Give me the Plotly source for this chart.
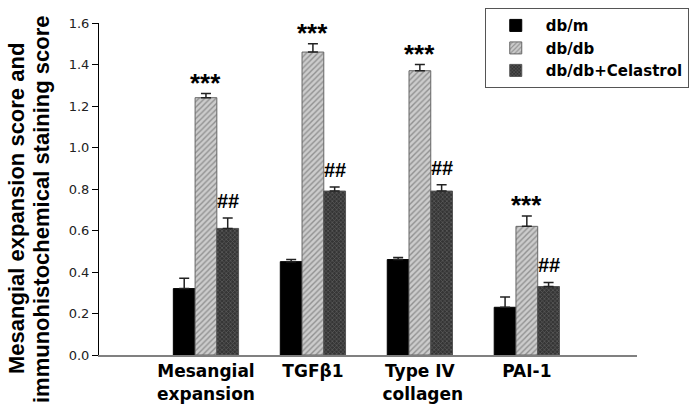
import plotly.graph_objects as go

categories = ["Mesangial<br>expansion", "TGFβ1", "Type IV<br> collagen", "PAI-1"]
series_names = ["db/m", "db/db", "db/db+Celastrol"]
dbm = [0.32, 0.45, 0.46, 0.23]
dbm_err = [0.05, 0.01, 0.01, 0.05]
dbdb = [1.24, 1.46, 1.37, 0.62]
dbdb_err = [0.02, 0.04, 0.03, 0.05]
cel = [0.61, 0.79, 0.79, 0.33]
cel_err = [0.05, 0.02, 0.03, 0.02]
star_labels = ["***", "***", "***", "***"]
hash_labels = ["##", "##", "##", "##"]
y_ticks = [0.0, 0.2, 0.4, 0.6, 0.8, 1.0, 1.2, 1.4, 1.6]
y_title_lines = ["Mesangial expansion score and", "immunohistochemical staining score"]

xs = list(range(len(categories)))
BOLD = "DejaVu Sans, Liberation Sans, Arial"
ARIAL = "Liberation Sans, Arial"

fig = go.Figure()

def err(vals):
    return dict(type="data", array=vals, arrayminus=[0] * len(vals), symmetric=False,
                color="#222222", thickness=1.5, width=5)

fig.add_trace(go.Bar(name="<b>" + series_names[0] + "</b>", x=xs, y=dbm, error_y=err(dbm_err),
                     marker=dict(color="#000000", line=dict(color="#000000", width=1))))
fig.add_trace(go.Bar(name="<b>" + series_names[1] + "</b>", x=xs, y=dbdb, error_y=err(dbdb_err),
                     marker=dict(color="#cfcfcf", line=dict(color="#666666", width=1),
                                 pattern=dict(shape="/", bgcolor="#cccccc", fgcolor="#555555",
                                              size=4, solidity=0.35))))
fig.add_trace(go.Bar(name="<b>" + series_names[2] + "</b>", x=xs, y=cel, error_y=err(cel_err),
                     marker=dict(color="#444444", line=dict(color="#555555", width=1),
                                 pattern=dict(shape="x", bgcolor="#353535", fgcolor="#858585",
                                              size=3, solidity=0.4))))

bar_w = 0.61 / 3
for i in xs:
    fig.add_annotation(x=i, y=dbdb[i] + dbdb_err[i], text="<b>" + star_labels[i] + "</b>",
                       showarrow=False, yanchor="bottom", yshift=-6,
                       font=dict(size=26, color="#000000", family=ARIAL))
    fig.add_annotation(x=i + bar_w, y=cel[i] + cel_err[i], text="<b>" + hash_labels[i] + "</b>",
                       showarrow=False, yanchor="bottom", yshift=4,
                       font=dict(size=20, color="#000000", family=ARIAL))

# y-axis title as two rotated lines (paper coords: plot left at 99px, paper width 599px)
for line, px in zip(y_title_lines, [16, 41]):
    fig.add_annotation(xref="paper", yref="paper", x=(px - 99) / 599, y=(355 - 209) / 355,
                       text="<b>" + line + "</b>", textangle=-90, showarrow=False,
                       xanchor="center", yanchor="middle",
                       font=dict(size=22, color="#000000", family=ARIAL))

fig.update_layout(
    width=698, height=411,
    margin=dict(l=99, r=0, t=0, b=56, autoexpand=False),
    paper_bgcolor="white", plot_bgcolor="white",
    barmode="group", bargap=0.39, bargroupgap=0,
    font=dict(family=ARIAL, color="#000000"),
    showlegend=True,
    legend=dict(x=0.644, y=0.977, xanchor="left", yanchor="top",
                bordercolor="#555555", borderwidth=1, bgcolor="white",
                font=dict(size=15, color="#000000", family=BOLD),
                itemwidth=50),
    xaxis=dict(domain=[0, 538 / 599], range=[-1, 4.03], tickmode="array", tickvals=xs,
               ticktext=["<b>" + c + "</b>" for c in categories],
               tickfont=dict(size=17, color="#000000", family=BOLD),
               showline=True, linecolor="#808080", linewidth=2, ticks="",
               showgrid=False, zeroline=False, fixedrange=True, automargin=False),
    yaxis=dict(domain=[0, 332 / 355], range=[0, 1.6], tickmode="array", tickvals=y_ticks,
               ticktext=[f"{v:.1f}" for v in y_ticks],
               tickfont=dict(size=13, color="#222222", family=BOLD),
               showline=True, linecolor="#000000", linewidth=1,
               ticks="outside", ticklen=6, tickcolor="#000000",
               showgrid=False, zeroline=False, automargin=False, fixedrange=True),
)

fig.write_html("out.html", config={"displayModeBar": False},
               post_script="document.body.style.margin='0';")
